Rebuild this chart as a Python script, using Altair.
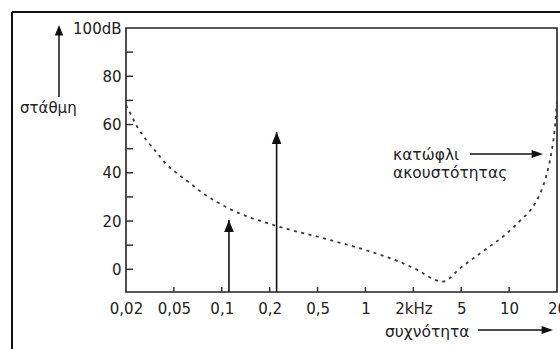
import altair as alt
import pandas as pd

# ---- data ----
x_labels = ["0,02", "0,05", "0,1", "0,2", "0,5", "1", "2kHz", "5", "10", "20"]
x_positions = list(range(len(x_labels)))          # equally spaced category positions
y_tick_values = list(range(0, 101, 10))

curve_x = [0, 0.08, 0.22, 0.42, 0.63, 0.83, 1.07, 1.32, 1.54, 2.17, 3.14, 4.04,
           5.0, 5.71, 6.02, 6.61, 7.0, 7.44, 7.9, 8.25, 8.5, 8.66, 8.78, 8.88, 8.95, 9.0]
curve_db = [68, 65, 59.6, 53.7, 48.7, 43.8, 39.7, 36.0, 32.5, 25.0, 18.0, 13.3,
            8.0, 3.1, 0.4, -5.1, 0.8, 7.3, 14.0, 20.5, 26.0, 32.0, 39.0, 48.0, 57.6, 70.0]

arrow_x = [2.15, 3.145]
arrow_tip_db = [20.4, 56.9]

label_level = "στάθμη"
label_threshold = ["κατώφλι", "ακουστότητας"]
label_freq = "συχνότητα"

# ---- layout ----
Y_MIN, Y_MAX = -9.4, 100
W, H = 431, 264
FONT = "DejaVu Sans"
TXT = "#222222"

curve_df = pd.DataFrame({"x": curve_x, "db": curve_db})
arrow_df = pd.DataFrame({"x": arrow_x, "tip": arrow_tip_db, "base": [Y_MIN] * len(arrow_x)})
xt_df = pd.DataFrame({"x": x_positions[1:-1]})
yt_df = pd.DataFrame({"y": y_tick_values[:-1]})
one = pd.DataFrame({"a": [0]})

xs = alt.Scale(domain=[0, 9], nice=False, zero=False)
ys = alt.Scale(domain=[Y_MIN, Y_MAX], nice=False, zero=False)

label_expr_x = "[" + ",".join("'%s'" % s for s in x_labels) + "][datum.value]"
label_expr_y = "datum.value == 100 ? '100dB' : (datum.value % 20 == 0 ? datum.label : '')"

X = alt.X("x:Q", scale=xs, title=None,
          axis=alt.Axis(values=x_positions, labelExpr=label_expr_x, grid=False,
                        domain=False, ticks=False, labelPadding=9, labelFontSize=15,
                        labelFont=FONT, labelColor=TXT, labelOverlap=False,
                        labelFlush=False))
Y_axis = alt.Axis(values=y_tick_values, labelExpr=label_expr_y, grid=False,
                  domain=False, ticks=False, labelPadding=5, labelFontSize=15,
                  labelFont=FONT, labelColor=TXT, labelOverlap=False, labelFlush=False)

curve = alt.Chart(curve_df).mark_line(
    color="#3a3a3a", strokeWidth=1.8, strokeDash=[3, 4.5], interpolate="monotone"
).encode(x=X, y=alt.Y("db:Q", scale=ys, title=None, axis=Y_axis))

shafts = alt.Chart(arrow_df).mark_rule(color="#111111", strokeWidth=1.6).encode(
    x=alt.X("x:Q", scale=xs), y=alt.Y("base:Q", scale=ys), y2="tip:Q")
UP = "M0,0L-0.8,2L0.8,2Z"
RIGHT = "M0,0L-2,-0.7L-2,0.7Z"
heads = alt.Chart(arrow_df).mark_point(shape=UP, filled=True, size=144, opacity=1,
                                       color="#111111").encode(
    x=alt.X("x:Q", scale=xs), y=alt.Y("tip:Q", scale=ys))

xticks = alt.Chart(xt_df).mark_rule(color="#333333", strokeWidth=1.5).encode(
    x=alt.X("x:Q", scale=xs), y=alt.value(H), y2=alt.value(H - 5))
yticks = alt.Chart(yt_df).mark_rule(color="#333333", strokeWidth=1.5).encode(
    y=alt.Y("y:Q", scale=ys), x=alt.value(0), x2=alt.value(7))

# outer frame (left and top edges)
frame_top = alt.Chart(one).mark_rule(color="#111111", strokeWidth=2).encode(
    x=alt.value(-114), x2=alt.value(600), y=alt.value(-16))
frame_left = alt.Chart(one).mark_rule(color="#111111", strokeWidth=2).encode(
    x=alt.value(-114), y=alt.value(-16), y2=alt.value(400))

def text_layer(t, px, py, size=15):
    return alt.Chart(one).mark_text(align="left", baseline="alphabetic", font=FONT,
                                    fontSize=size, color=TXT, text=t).encode(
        x=alt.value(px), y=alt.value(py))

# level arrow (left)
lvl_shaft = alt.Chart(one).mark_rule(color="#111111", strokeWidth=1.5).encode(
    x=alt.value(-67), y=alt.value(5), y2=alt.value(69))
lvl_head = alt.Chart(one).mark_point(shape=UP, filled=True, size=110, opacity=1,
                                     color="#111111").encode(
    x=alt.value(-67), y=alt.value(-3))
# threshold arrow
thr_shaft = alt.Chart(one).mark_rule(color="#111111", strokeWidth=1.5).encode(
    x=alt.value(344), x2=alt.value(410), y=alt.value(126))
thr_head = alt.Chart(one).mark_point(shape=RIGHT, filled=True, size=130, opacity=1,
                                     color="#111111").encode(
    x=alt.value(417), y=alt.value(126))
# frequency arrow
frq_shaft = alt.Chart(one).mark_rule(color="#111111", strokeWidth=1.5).encode(
    x=alt.value(352), x2=alt.value(420), y=alt.value(302))
frq_head = alt.Chart(one).mark_point(shape=RIGHT, filled=True, size=130, opacity=1,
                                     color="#111111").encode(
    x=alt.value(427), y=alt.value(302))

chart = alt.layer(
    curve, shafts, heads, xticks, yticks, frame_top, frame_left,
    text_layer(label_level, -106, 85),
    text_layer(label_threshold[0], 267, 132, 15.5),
    text_layer(label_threshold[1], 267, 150, 15.5),
    text_layer(label_freq, 259, 309, 15.5),
    lvl_shaft, lvl_head, thr_shaft, thr_head, frq_shaft, frq_head,
).properties(
    width=W, height=H,
    autosize=alt.AutoSizeParams(type="none"),
    padding={"left": 126, "top": 28, "right": 3, "bottom": 57},
    background="white",
).configure_view(stroke="#222222", strokeWidth=1.6)

chart.save("out.html", embed_options={"renderer": "svg", "actions": False})
